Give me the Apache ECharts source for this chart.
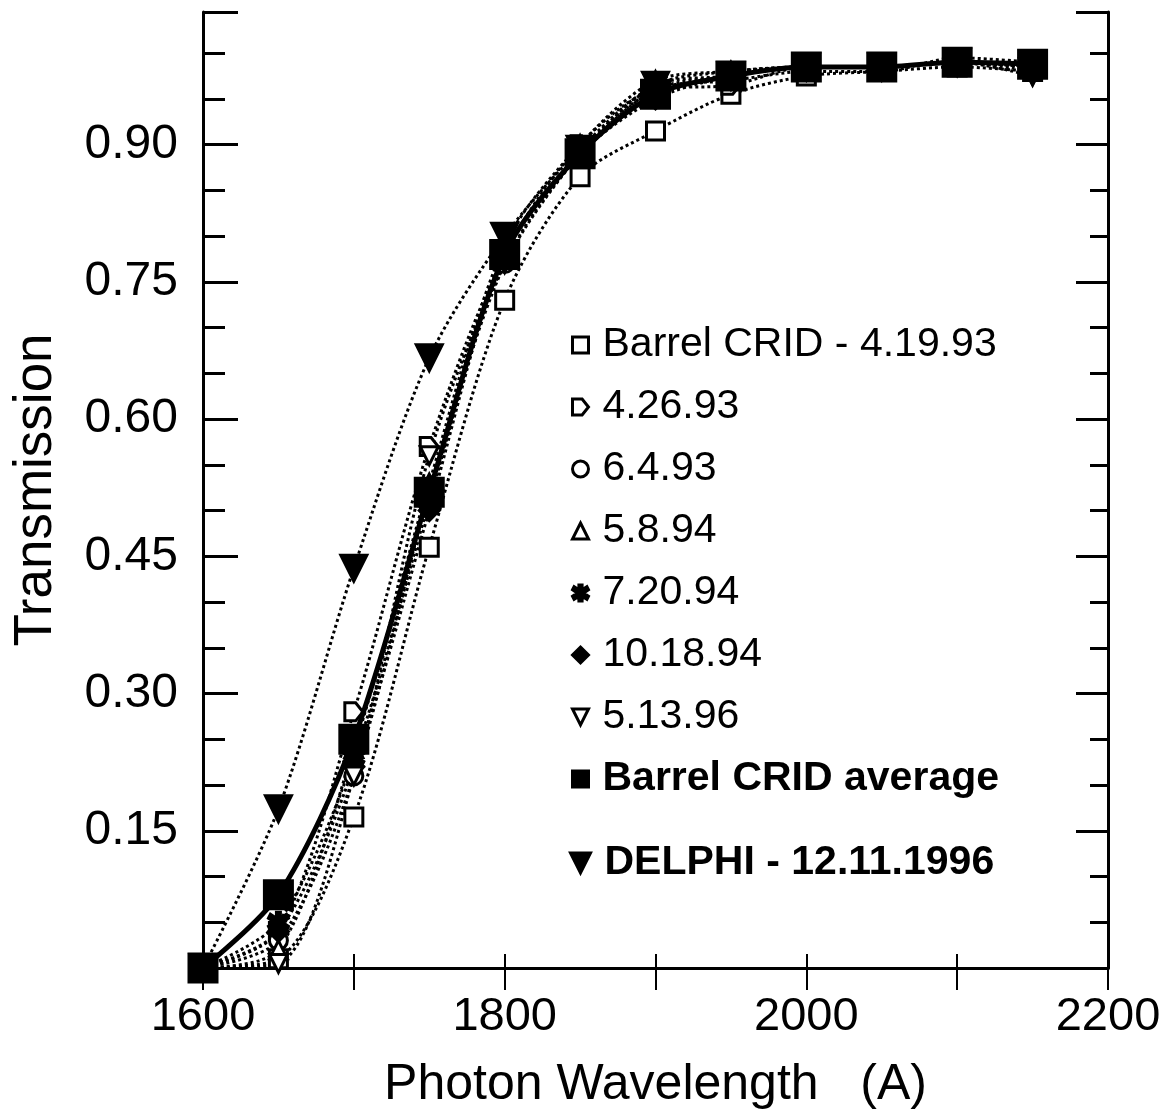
<!DOCTYPE html>
<html>
<head>
    <meta charset="utf-8">
    <title>Transmission vs Photon Wavelength</title>
    <script src="https://cdn.jsdelivr.net/npm/echarts@6/dist/echarts.min.js"></script>
</head>
<body style="margin:0;background:#fff">
    <div id="main" style="width:1167px;height:1115px;"></div>
    <script type="text/javascript">
        var dom = document.getElementById("main");
        var myChart = echarts.init(dom);

        // wavelengths (A)
        var wavelength = [1600, 1650, 1700, 1750, 1800, 1850, 1900, 1950, 2000, 2050, 2100, 2150];
        // transmission
        var crid_041993 = [0, 0.01, 0.165, 0.46, 0.73, 0.865, 0.915, 0.955, 0.975, 0.98, 0.985, 0.98];
        var crid_042693 = [0, 0.04, 0.28, 0.57, 0.78, 0.90, 0.96, 0.965, 0.985, 0.985, 0.99, 0.985];
        var crid_060493 = [0, 0.03, 0.21, 0.52, 0.77, 0.89, 0.96, 0.97, 0.98, 0.98, 0.995, 0.99];
        var crid_050894 = [0, 0.02, 0.24, 0.53, 0.79, 0.90, 0.97, 0.98, 0.985, 0.985, 0.99, 0.985];
        var crid_072094 = [0, 0.05, 0.23, 0.51, 0.78, 0.89, 0.96, 0.975, 0.985, 0.985, 0.99, 0.985];
        var crid_101894 = [0, 0.04, 0.22, 0.50, 0.78, 0.89, 0.95, 0.975, 0.985, 0.985, 0.99, 0.985];
        var crid_051396 = [0, 0.005, 0.21, 0.56, 0.77, 0.89, 0.965, 0.98, 0.985, 0.985, 0.99, 0.975];
        var crid_average = [0, 0.08, 0.25, 0.52, 0.78, 0.89, 0.955, 0.975, 0.985, 0.985, 0.99, 0.988];
        var delphi = [0, 0.174, 0.437, 0.667, 0.80, 0.895, 0.965, 0.975, 0.985, 0.985, 0.99, 0.98];

        var names = ['Barrel CRID - 4.19.93', '4.26.93', '6.4.93', '5.8.94', '7.20.94',
            '10.18.94', '5.13.96', 'Barrel CRID average', 'DELPHI - 12.11.1996'];

        var FONT = 'Liberation Sans';
        var pentagon = 'path://M0,0 L6,0 L10,5 L6,10 L0,10 Z';
        var asterisk = 'path://M4,0 L6,0 L6,3 L9,1 L10,3 L7,5 L10,7 L9,9 L6,7 L6,10 L4,10 L4,7 L1,9 L0,7 L3,5 L0,3 L1,1 L4,3 Z';
        var downTri = 'path://M0,0 L10,0 L5,10 Z';

        function pairs(ys) {
            return wavelength.map(function (x, i) { return [x, ys[i]]; });
        }

        function mk(name, ys, symbol, size, filled, rotate, solid) {
            return {
                name: name,
                type: 'line',
                data: pairs(ys),
                smooth: 0.3,
                symbol: symbol,
                symbolSize: size,
                symbolRotate: rotate || 0,
                showAllSymbol: true,
                lineStyle: { color: '#000', width: solid ? 5 : 3, type: solid ? 'solid' : 'dotted' },
                itemStyle: { color: filled ? '#000' : '#fff', borderColor: '#000', borderWidth: 3 },
                z: solid ? 3 : 2
            };
        }

        var series = [
            mk(names[0], crid_041993, 'rect', 18, false),
            mk(names[1], crid_042693, pentagon, 18, false),
            mk(names[2], crid_060493, 'circle', 18, false),
            mk(names[3], crid_050894, 'triangle', 18, false),
            mk(names[4], crid_072094, asterisk, 20, true),
            mk(names[5], crid_101894, 'diamond', 20, true),
            mk(names[6], crid_051396, 'triangle', 18, false, 180),
            mk(names[7], crid_average, 'rect', 28, true, 0, true),
            mk(names[8], delphi, 'triangle', 26, true, 180)
        ];

        var legendIcons = ['rect', pentagon, 'circle', 'triangle', asterisk,
            'diamond', downTri, 'rect', downTri];
        var legendFilled = [false, false, false, false, true, true, false, true, true];

        function legendItem(i, bold) {
            return {
                name: names[i],
                icon: legendIcons[i],
                itemStyle: { color: legendFilled[i] ? '#000' : '#fff', borderColor: '#000', borderWidth: 3 },
                textStyle: { fontWeight: bold ? 'bold' : 'normal' }
            };
        }

        var legendText = { fontFamily: FONT, fontSize: 41, color: '#000', lineHeight: 44, padding: [0, 0, 0, 9] };
        var axisLineStyle = { lineStyle: { color: '#000', width: 3 } };

        function yLabel(v) {
            var k = Math.round(v * 100);
            if (k > 0 && k < 100 && k % 15 === 0) return (k / 100).toFixed(2);
            return '';
        }

        var option = {
            backgroundColor: '#fff',
            animation: false,
            textStyle: { fontFamily: FONT },
            grid: { left: 203, right: 59, top: 12, bottom: 145 },
            legend: [{
                orient: 'vertical',
                left: 566,
                top: 318,
                itemWidth: 16,
                itemHeight: 16,
                itemGap: 18,
                selectedMode: false,
                textStyle: legendText,
                data: [0, 1, 2, 3, 4, 5, 6, 7].map(function (i) { return legendItem(i, i === 7); })
            }, {
                orient: 'vertical',
                left: 564,
                top: 836,
                itemWidth: 20,
                itemHeight: 20,
                selectedMode: false,
                textStyle: legendText,
                data: [legendItem(8, true)]
            }],
            xAxis: [{
                type: 'value',
                min: 1600,
                max: 2200,
                interval: 100,
                name: 'Photon Wavelength   (A)',
                nameLocation: 'middle',
                nameGap: 92,
                nameTextStyle: { fontFamily: FONT, fontSize: 50, color: '#000' },
                axisLine: axisLineStyle,
                axisTick: { inside: true, length: 14, lineStyle: { color: '#000', width: 2 } },
                axisLabel: {
                    fontFamily: FONT, fontSize: 47, color: '#000', margin: 26,
                    showMinLabel: true, showMaxLabel: true,
                    formatter: function (v) { return v % 200 === 0 ? String(v) : ''; }
                },
                splitLine: { show: false }
            }, {
                type: 'value',
                position: 'top',
                min: 1600,
                max: 2200,
                interval: 100,
                axisLine: axisLineStyle,
                axisTick: { inside: true, length: 22, lineStyle: { color: '#000', width: 2 } },
                axisLabel: { show: false },
                splitLine: { show: false }
            }],
            yAxis: [{
                type: 'value',
                min: 0,
                max: 1.045,
                interval: 0.05,
                name: 'Transmission',
                nameLocation: 'middle',
                nameGap: 140,
                nameTextStyle: { fontFamily: FONT, fontSize: 53, color: '#000' },
                axisLine: axisLineStyle,
                axisTick: { inside: true, length: 22, lineStyle: { color: '#000', width: 3 } },
                axisLabel: {
                    fontFamily: FONT, fontSize: 48, color: '#000', margin: 25,
                    formatter: yLabel
                },
                splitLine: { show: false }
            }, {
                type: 'value',
                position: 'left',
                min: 0,
                max: 1.045,
                interval: 0.15,
                axisLine: { show: false },
                axisTick: { inside: true, length: 35, lineStyle: { color: '#000', width: 3 } },
                axisLabel: { show: false },
                splitLine: { show: false }
            }, {
                type: 'value',
                position: 'right',
                min: 0,
                max: 1.045,
                interval: 0.05,
                axisLine: axisLineStyle,
                axisTick: { inside: true, length: 18, lineStyle: { color: '#000', width: 3 } },
                axisLabel: { show: false },
                splitLine: { show: false }
            }, {
                type: 'value',
                position: 'right',
                min: 0,
                max: 1.045,
                interval: 0.15,
                axisLine: { show: false },
                axisTick: { inside: true, length: 32, lineStyle: { color: '#000', width: 3 } },
                axisLabel: { show: false },
                splitLine: { show: false }
            }],
            series: series
        };

        myChart.setOption(option);
    </script>
</body>
</html>
